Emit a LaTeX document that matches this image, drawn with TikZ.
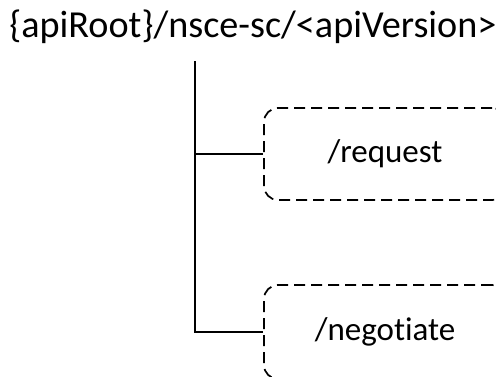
\documentclass[tikz,border=0pt]{standalone}
\usepackage{fontspec}
\setmainfont{Carlito}[Ligatures=NoCommon]
\begin{document}
\begin{tikzpicture}[x=1pt,y=-1pt,
  leafbox/.style={draw, line width=1.7pt, dash pattern=on 11pt off 6pt, rounded corners=14pt,
    minimum width=242pt, minimum height=92pt, inner sep=0pt, font=\fontsize{33}{38}\selectfont},
  trunk/.style={draw, line width=1.6pt}]
\useasboundingbox (0,0) rectangle (496,376);
\node[anchor=base, inner sep=0pt, font=\fontsize{38.2}{44}\selectfont] (root) at (253,37) {\{apiRoot\}/nsce-sc/<apiVersion>};
\coordinate (top) at (195,61);
\node[leafbox] (req) at (385,154) {/request};
\node[leafbox, minimum height=94pt] (neg) at (385,332) {/negotiate};
\path[trunk] (top) -- (top |- neg.west) -- (neg.west);
\path[trunk] (top |- req.west) -- (req.west);
\end{tikzpicture}
\end{document}
